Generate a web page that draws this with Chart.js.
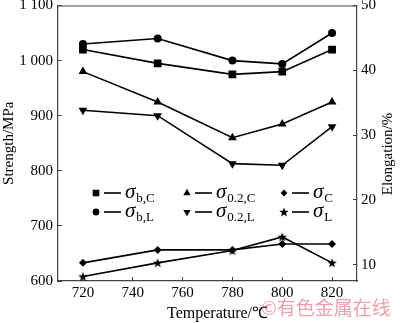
<!DOCTYPE html>
<html>
<head>
<meta charset="utf-8">
<script src="https://cdn.jsdelivr.net/npm/chart.js@4.4.0/dist/chart.umd.min.js"></script>
<style>
  html, body { margin: 0; padding: 0; background: #fff; }
  #wrap { width: 400px; height: 323px; }
</style>
</head>
<body>
<div id="wrap"><canvas id="chart"></canvas></div>
<script>
// temperatures (℃)
var temps = [720, 750, 780, 800, 820];

// strength, MPa (left axis)
var sigmaBC = [1020, 995, 975, 980, 1020];
var sigmaBL = [1030, 1040, 1000, 994, 1050];
var sigma02C = [980, 925, 860, 885, 925];
var sigma02L = [910, 900, 813, 810, 880];

// elongation, % (right axis)
var elongC = [10.3, 12.3, 12.3, 13.2, 13.2];
var elongL = [8.2, 10.3, 12.2, 14.3, 10.3];

// legend subscripts, in legend order
var legendSubs = ["b,C", "0.2,C", "C", "b,L", "0.2,L", "L"];

var xTicks = [720, 740, 760, 780, 800, 820];
var strengthTicks = [600, 700, 800, 900, 1000, 1100];
var elongTicks = [10, 20, 30, 40, 50];

var serif = "'Liberation Serif', 'Times New Roman', serif";

// filled five-point star marker
function makeStar() {
    var c = document.createElement("canvas");
    c.width = 10;
    c.height = 10;
    var g = c.getContext("2d");
    g.fillStyle = "#000";
    g.beginPath();
    for (var i = 0; i < 10; i++) {
        var r = i % 2 === 0 ? 5 : 2.1;
        var a = -Math.PI / 2 + i * Math.PI / 5;
        var px = 5 + Math.cos(a) * r;
        var py = 5.4 + Math.sin(a) * r;
        if (i === 0) g.moveTo(px, py); else g.lineTo(px, py);
    }
    g.closePath();
    g.fill();
    return c;
}
var starImg = makeStar();

function pts(values) {
    return temps.map(function (t, i) { return { x: t, y: values[i] }; });
}

function series(label, values, axis, style, radius, rotation) {
    return {
        label: label,
        data: pts(values),
        yAxisID: axis,
        borderColor: "#000",
        backgroundColor: "#000",
        borderWidth: 1.6,
        pointStyle: style,
        pointRadius: radius,
        pointRotation: rotation || 0,
        pointBorderWidth: 0,
        pointBackgroundColor: "#000",
        tension: 0,
    };
}

var datasets = [
    series("σb,C", sigmaBC, "y", "rect", 5.5),
    series("σ0.2,C", sigma02C, "y", "triangle", 5),
    series("σC", elongC, "y1", "rectRot", 4),
    series("σb,L", sigmaBL, "y", "circle", 4),
    series("σ0.2,L", sigma02L, "y", "triangle", 5, 180),
    series("σL", elongL, "y1", starImg, 5),
];

// legend drawn inside the plot, marker + short line + σ with subscript
var innerLegend = {
    id: "innerLegend",
    afterDraw: function (chart) {
        var ctx = chart.ctx;
        var cols = [96, 187, 284];
        var rows = [193, 212];
        ctx.save();
        datasets.forEach(function (ds, i) {
            var x = cols[i % 3];
            var y = rows[Math.floor(i / 3)];
            ctx.fillStyle = "#000";
            ctx.strokeStyle = "#000";
            if (ds.pointStyle instanceof HTMLCanvasElement) {
                ctx.drawImage(ds.pointStyle, x - 5, y - 5);
            } else {
                Chart.helpers.drawPoint(ctx, {
                    pointStyle: ds.pointStyle,
                    radius: ds.pointRadius * 0.85,
                    rotation: ds.pointRotation,
                    borderWidth: 0,
                }, x, y);
            }
            ctx.lineWidth = 1.6;
            ctx.beginPath();
            ctx.moveTo(x + 8, y);
            ctx.lineTo(x + 25, y);
            ctx.stroke();
            ctx.textBaseline = "alphabetic";
            ctx.textAlign = "left";
            ctx.font = "italic 21px " + serif;
            ctx.fillText("σ", x + 29, y + 5);
            var w = ctx.measureText("σ").width;
            ctx.font = "13px " + serif;
            ctx.fillText(legendSubs[i], x + 29 + w + 1, y + 9);
        });
        ctx.restore();
    },
};

// top frame line, axis titles, watermark
var extras = {
    id: "extras",
    afterDraw: function (chart) {
        var ctx = chart.ctx;
        var a = chart.chartArea;
        ctx.save();
        ctx.strokeStyle = "#444";
        ctx.lineWidth = 1.2;
        ctx.beginPath();
        ctx.moveTo(a.left, a.top + 0.5);
        ctx.lineTo(a.right, a.top + 0.5);
        ctx.stroke();

        ctx.fillStyle = "#000";
        ctx.font = "16px " + serif;
        ctx.textAlign = "left";
        ctx.textBaseline = "alphabetic";
        ctx.fillText("Temperature/℃", 167, 318);

        ctx.font = "15px " + serif;
        ctx.textAlign = "center";
        ctx.textBaseline = "middle";
        ctx.translate(388, 154);
        ctx.rotate(-Math.PI / 2);
        ctx.fillText("Elongation/%", 0, 0);
        ctx.restore();

        ctx.save();
        ctx.fillStyle = "rgba(230, 120, 135, 0.7)";
        ctx.font = "19px 'Noto Sans CJK SC', sans-serif";
        ctx.textAlign = "left";
        ctx.textBaseline = "middle";
        ctx.fillText("©有色金属在线", 261, 308);
        ctx.restore();
    },
};

function fixTicks(list) {
    return function (scale) {
        scale.ticks = list.map(function (v) { return { value: v }; });
    };
}

new Chart(document.getElementById("chart").getContext("2d"), {
    type: "line",
    data: { datasets: datasets },
    options: {
        responsive: true,
        maintainAspectRatio: false,
        devicePixelRatio: 1,
        animation: false,
        layout: { padding: { top: 5, left: 0, right: 0, bottom: 0 } },
        plugins: {
            legend: { display: false },
            tooltip: { enabled: false },
        },
        scales: {
            x: {
                type: "linear",
                position: "bottom",
                min: 710,
                max: 830,
                afterBuildTicks: fixTicks(xTicks),
                afterFit: function (s) { s.height = 42; s.paddingLeft = 0; s.paddingRight = 0; },
                border: { display: true, color: "#444", width: 1.2 },
                grid: { drawOnChartArea: false, drawTicks: true, tickLength: -4, color: "#444" },
                ticks: {
                    color: "#000",
                    font: { family: serif, size: 15 },
                    padding: 7,
                    maxRotation: 0,
                },
            },
            y: {
                type: "linear",
                position: "left",
                min: 600,
                max: 1100,
                afterBuildTicks: fixTicks(strengthTicks),
                afterFit: function (s) { s.width = 58; s.paddingTop = 0; s.paddingBottom = 0; },
                border: { display: true, color: "#444", width: 1.2 },
                grid: { drawOnChartArea: false, drawTicks: true, tickLength: -4, color: "#444" },
                ticks: {
                    color: "#000",
                    font: { family: serif, size: 15 },
                    padding: 9,
                    callback: function (v) {
                        return v >= 1000 ? Math.floor(v / 1000) + " " + String(v % 1000).padStart(3, "0") : String(v);
                    },
                },
                title: {
                    display: true,
                    text: "Strength/MPa",
                    color: "#000",
                    font: { family: serif, size: 15 },
                    padding: { top: 0, bottom: 0 },
                },
            },
            y1: {
                type: "linear",
                position: "right",
                min: 7.5,
                max: 50,
                afterBuildTicks: fixTicks(elongTicks),
                afterFit: function (s) { s.width = 43; s.paddingTop = 0; s.paddingBottom = 0; },
                border: { display: true, color: "#444", width: 1.2 },
                grid: { drawOnChartArea: false, drawTicks: true, tickLength: -4, color: "#444" },
                ticks: {
                    color: "#000",
                    font: { family: serif, size: 15 },
                    padding: 8,
                },
            },
        },
    },
    plugins: [innerLegend, extras],
});
</script>
</body>
</html>
